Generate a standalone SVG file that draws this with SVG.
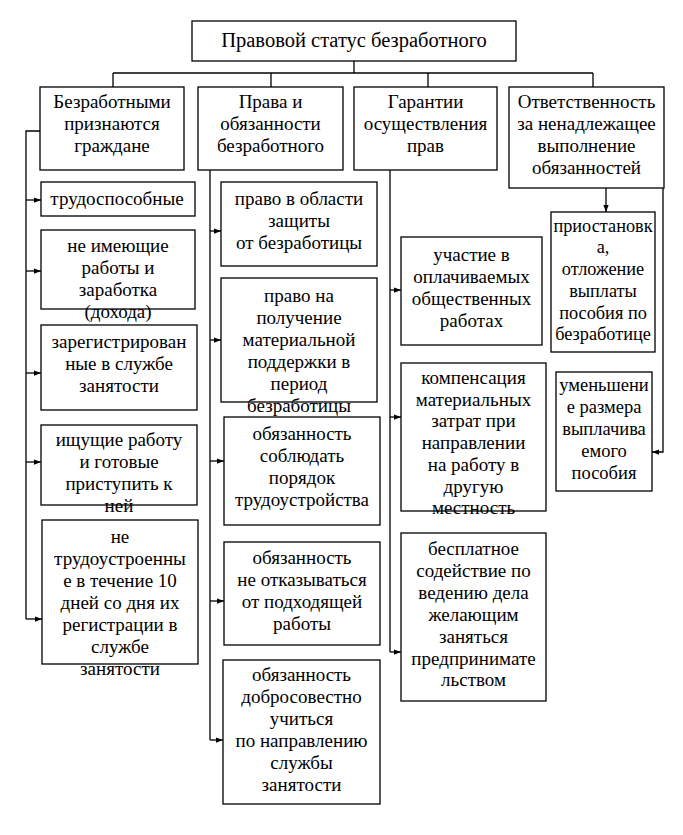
<svg xmlns="http://www.w3.org/2000/svg" width="683" height="835" viewBox="0 0 683 835">
<defs>
<style>
.b{fill:#fff;stroke:#000;stroke-width:1.3}
</style>
<marker id="a" viewBox="0 0 8 8" refX="8" refY="4" markerWidth="7" markerHeight="7" orient="auto" markerUnits="userSpaceOnUse"><path d="M0,1 L8,4 L0,7 Z" fill="#000"/></marker>
</defs>
<rect width="683" height="835" fill="#fff"/>
<g id="connectors" stroke="#000" stroke-width="1.3" fill="none">
<line x1="354" y1="61" x2="354" y2="73"/>
<line x1="113" y1="73" x2="593" y2="73"/>
<line x1="113" y1="73" x2="113" y2="87"/>
<line x1="271" y1="73" x2="271" y2="87"/>
<line x1="428" y1="73" x2="428" y2="87"/>
<line x1="593" y1="73" x2="593" y2="87"/>
<polyline points="40,131 26,131 26,619"/>
<line x1="26" y1="200" x2="41" y2="200" marker-end="url(#a)"/>
<line x1="26" y1="271" x2="41" y2="271" marker-end="url(#a)"/>
<line x1="26" y1="373" x2="41" y2="373" marker-end="url(#a)"/>
<line x1="26" y1="462" x2="41" y2="462" marker-end="url(#a)"/>
<line x1="26" y1="619" x2="42" y2="619" marker-end="url(#a)"/>
<line x1="210" y1="170" x2="210" y2="740"/>
<line x1="210" y1="231" x2="221" y2="231" marker-end="url(#a)"/>
<line x1="210" y1="340" x2="221" y2="340" marker-end="url(#a)"/>
<line x1="210" y1="461" x2="224" y2="461" marker-end="url(#a)"/>
<line x1="210" y1="601" x2="224" y2="601" marker-end="url(#a)"/>
<line x1="210" y1="740" x2="223" y2="740" marker-end="url(#a)"/>
<line x1="390" y1="170" x2="390" y2="652"/>
<line x1="390" y1="290" x2="401" y2="290" marker-end="url(#a)"/>
<line x1="390" y1="417" x2="401" y2="417" marker-end="url(#a)"/>
<line x1="390" y1="652" x2="401" y2="652" marker-end="url(#a)"/>
<line x1="606" y1="188" x2="606" y2="212" marker-end="url(#a)"/>
<polyline points="663,188 663,452 652,452" marker-end="url(#a)"/>
</g>
<g id="nodes" font-family="Liberation Serif" font-size="19" text-anchor="middle" fill="#000">
<g id="n0"><rect class="b" x="192" y="21" width="324" height="40"/><text x="354" y="47" font-size="20.5">Правовой статус безработного</text></g>
<g id="n1"><rect class="b" x="40" y="87" width="144" height="83"/><text x="112" y="108">Безработными</text><text x="112" y="130">признаются</text><text x="112" y="152">граждане</text></g>
<g id="n2"><rect class="b" x="198" y="87" width="145" height="83"/><text x="270.5" y="108">Права и</text><text x="270.5" y="130">обязанности</text><text x="270.5" y="152">безработного</text></g>
<g id="n3"><rect class="b" x="354" y="87" width="143" height="83"/><text x="425.5" y="108">Гарантии</text><text x="425.5" y="130">осуществления</text><text x="425.5" y="152">прав</text></g>
<g id="n4"><rect class="b" x="509" y="87" width="155" height="101"/><text x="586.5" y="108">Ответственность</text><text x="586.5" y="130">за ненадлежащее</text><text x="586.5" y="152">выполнение</text><text x="586.5" y="174">обязанностей</text></g>
<g id="l1"><rect class="b" x="41" y="182" width="154" height="34"/><text x="117" y="205">трудоспособные</text></g>
<g id="l2"><rect class="b" x="41" y="230" width="154" height="79"/><text x="118" y="252">не имеющие</text><text x="118" y="274">работы и</text><text x="118" y="296">заработка</text><text x="118" y="318">(дохода)</text></g>
<g id="l3"><rect class="b" x="41" y="325" width="156" height="85"/><text x="119" y="348">зарегистрирован</text><text x="119" y="370">ные в службе</text><text x="119" y="392">занятости</text></g>
<g id="l4"><rect class="b" x="41" y="425" width="156" height="80"/><text x="119" y="446">ищущие работу</text><text x="119" y="468">и готовые</text><text x="119" y="490">приступить к</text><text x="119" y="512">ней</text></g>
<g id="l5"><rect class="b" x="42" y="520" width="156" height="144"/><text x="120" y="543">не</text><text x="120" y="565">трудоустроенны</text><text x="120" y="587">е в течение 10</text><text x="120" y="609">дней со дня их</text><text x="120" y="631">регистрации в</text><text x="120" y="653">службе</text><text x="120" y="675">занятости</text></g>
<g id="m1"><rect class="b" x="221" y="182" width="156" height="84"/><text x="299" y="205">право в области</text><text x="299" y="227">защиты</text><text x="299" y="249">от безработицы</text></g>
<g id="m2"><rect class="b" x="221" y="278" width="156" height="124"/><text x="299" y="302">право на</text><text x="299" y="324">получение</text><text x="299" y="346">материальной</text><text x="299" y="368">поддержки в</text><text x="299" y="390">период</text><text x="299" y="412">безработицы</text></g>
<g id="m3"><rect class="b" x="224" y="417" width="156" height="108"/><text x="302" y="440">обязанность</text><text x="302" y="462">соблюдать</text><text x="302" y="484">порядок</text><text x="302" y="506">трудоустройства</text></g>
<g id="m4"><rect class="b" x="224" y="542" width="156" height="103"/><text x="302" y="564">обязанность</text><text x="302" y="586">не отказываться</text><text x="302" y="608">от подходящей</text><text x="302" y="630">работы</text></g>
<g id="m5"><rect class="b" x="223" y="660" width="157" height="144"/><text x="301.5" y="681">обязанность</text><text x="301.5" y="703">добросовестно</text><text x="301.5" y="725">учиться</text><text x="301.5" y="747">по направлению</text><text x="301.5" y="769">службы</text><text x="301.5" y="791">занятости</text></g>
<g id="g1"><rect class="b" x="401" y="237" width="141" height="108"/><text x="471.5" y="261">участие в</text><text x="471.5" y="283">оплачиваемых</text><text x="471.5" y="305">общественных</text><text x="471.5" y="327">работах</text></g>
<g id="g2"><rect class="b" x="401" y="363" width="145" height="148"/><text x="473.5" y="384">компенсация</text><text x="473.5" y="405.7">материальных</text><text x="473.5" y="427.4">затрат при</text><text x="473.5" y="449.1">направлении</text><text x="473.5" y="470.8">на работу в</text><text x="473.5" y="492.5">другую</text><text x="473.5" y="514.2">местность</text></g>
<g id="g3"><rect class="b" x="401" y="533" width="145" height="168"/><text x="473.5" y="555">бесплатное</text><text x="473.5" y="577">содействие по</text><text x="473.5" y="599">ведению дела</text><text x="473.5" y="621">желающим</text><text x="473.5" y="643">заняться</text><text x="473.5" y="665">предпринимате</text><text x="473.5" y="686">льством</text></g>
<g id="r1" font-size="18.3"><rect class="b" x="551" y="212" width="104" height="140"/><text x="603" y="232">приостановк</text><text x="603" y="253">а,</text><text x="603" y="275">отложение</text><text x="603" y="297">выплаты</text><text x="603" y="319">пособия по</text><text x="603" y="340">безработице</text></g>
<g id="r2" font-size="18.5"><rect class="b" x="556" y="372" width="96" height="119"/><text x="604" y="391">уменьшени</text><text x="604" y="413">е размера</text><text x="604" y="435">выплачива</text><text x="604" y="457">емого</text><text x="604" y="479">пособия</text></g>
</g>
</svg>
